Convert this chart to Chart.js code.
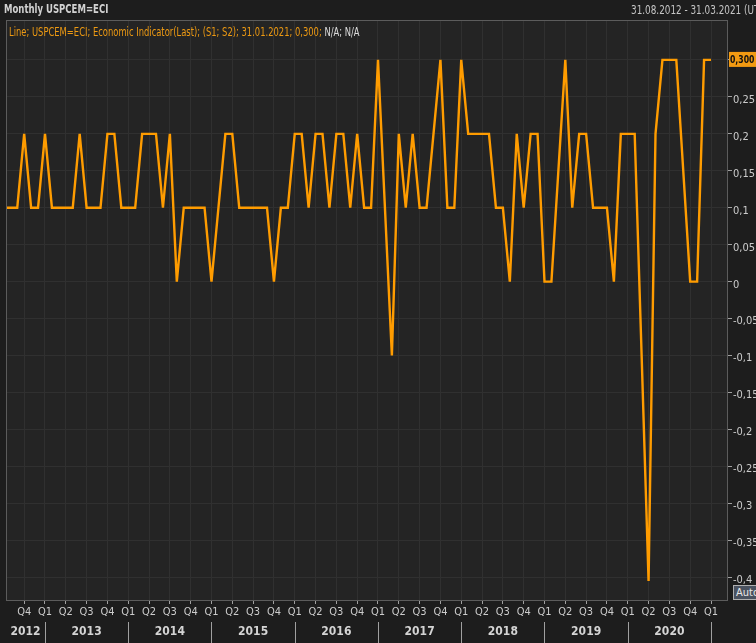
<!DOCTYPE html>
<html>
<head>
<meta charset="utf-8">
<script src="https://cdn.jsdelivr.net/npm/chart.js@4.4.1/dist/chart.umd.min.js"></script>
<style>
html,body{margin:0;padding:0;background:#1d1d1d;overflow:hidden}
#wrap{position:relative;width:756px;height:643px;overflow:hidden}
canvas{position:absolute;left:0;top:0}
.t{position:absolute;font-family:"DejaVu Sans Condensed","Liberation Sans Narrow",sans-serif;white-space:nowrap;line-height:1;transform-origin:left top}
#title{left:4px;top:3px;font-size:12px;font-weight:bold;color:#d2d2d2;transform:scaleX(0.79)}
#range{left:631px;top:4px;font-size:12px;color:#c4c4c4;transform:scaleX(0.82)}
#legend{left:9px;top:27px;font-size:11.5px;color:#ee9a12;transform:scaleX(0.81)}
#legend span{color:#dcdcdc}
#auto{left:733px;top:585px;width:26px;height:13px;font-size:11px;color:#e8e8e8;background:#4a5260;border:1px solid #b0b0b0;padding-left:2px;line-height:13px}
</style>
</head>
<body>
<div id="wrap">
<canvas id="c" width="756" height="643"></canvas>
<div class="t" id="title">Monthly USPCEM=ECI</div>
<div class="t" id="range">31.08.2012 - 31.03.2021 (UTC)</div>
<div class="t" id="legend">Line; USPCEM=ECI; Economic Indicator(Last); (S1; S2); 31.01.2021; 0,300; <span>N/A; N/A</span></div>
<div class="t" id="auto">Auto</div>
</div>
<script>
// monthly values, Jul 2012 .. Jan 2021
var v2012 = [0.1, 0.1, 0.1, 0.2, 0.1, 0.1];            // Jul-Dec
var v2013 = [0.2, 0.1, 0.1, 0.1, 0.1, 0.2, 0.1, 0.1, 0.1, 0.2, 0.2, 0.1];
var v2014 = [0.1, 0.1, 0.2, 0.2, 0.2, 0.1, 0.2, 0.0, 0.1, 0.1, 0.1, 0.1];
var v2015 = [0.0, 0.1, 0.2, 0.2, 0.1, 0.1, 0.1, 0.1, 0.1, 0.0, 0.1, 0.1];
var v2016 = [0.2, 0.2, 0.1, 0.2, 0.2, 0.1, 0.2, 0.2, 0.1, 0.2, 0.1, 0.1];
var v2017 = [0.3, 0.1, -0.1, 0.2, 0.1, 0.2, 0.1, 0.1, 0.2, 0.3, 0.1, 0.1];
var v2018 = [0.3, 0.2, 0.2, 0.2, 0.2, 0.1, 0.1, 0.0, 0.2, 0.1, 0.2, 0.2];
var v2019 = [0.0, 0.0, 0.15, 0.3, 0.1, 0.2, 0.2, 0.1, 0.1, 0.1, 0.0, 0.2];
var v2020 = [0.2, 0.2, -0.1, -0.405, 0.2, 0.3, 0.3, 0.3, 0.15, 0.0, 0.0, 0.3];
var v2021 = [0.3];                                      // Jan

var years = ['2012','2013','2014','2015','2016','2017','2018','2019','2020'];
var quarterNames = ['Q1','Q2','Q3','Q4'];
var yTicks = [0.3, 0.25, 0.2, 0.15, 0.1, 0.05, 0, -0.05, -0.1, -0.15, -0.2, -0.25, -0.3, -0.35, -0.4];
var lastValue = 0.3, lastLabel = '0,300';

// x = months since Jan 2012
var xMin = 6.38, xMax = 110.45;
var pts = [];
[[2012, 6, v2012], [2013, 0, v2013], [2014, 0, v2014], [2015, 0, v2015], [2016, 0, v2016],
 [2017, 0, v2017], [2018, 0, v2018], [2019, 0, v2019], [2020, 0, v2020], [2021, 0, v2021]].forEach(function(r){
	r[2].forEach(function(v, i){ pts.push({x: (r[0]-2012)*12 + r[1] + i, y: v}); });
});
var qTicks = [];
for (var q = 9; q <= 108; q += 3) qTicks.push(q);

var font = '"DejaVu Sans Condensed",sans-serif';

var frame = {
	id: 'frame',
	beforeDraw: function(ch){
		var a = ch.chartArea, c = ch.ctx;
		c.save();
		c.fillStyle = '#242424';
		c.fillRect(a.left, a.top, a.right-a.left, a.bottom-a.top);
		c.restore();
	},
	afterDraw: function(ch){
		var a = ch.chartArea, c = ch.ctx, xs = ch.scales.x, ys = ch.scales.y;
		c.save();
		c.strokeStyle = '#5c5c5c'; c.lineWidth = 1;
		c.strokeRect(a.left+0.5, a.top+0.5, a.right-a.left-1, a.bottom-a.top);
		// year row
		c.strokeStyle = '#a0a0a0';
		c.fillStyle = '#d4d4d4';
		c.font = 'bold 12px ' + font;
		c.textAlign = 'center'; c.textBaseline = 'middle';
		years.forEach(function(y, i){
			var s = Math.max(xMin, i*12), e = Math.min(xMax, (i+1)*12);
			var ps = xs.getPixelForValue(s), pe = xs.getPixelForValue(e);
			c.fillText(y, (ps+pe)/2, 632);
			if ((i+1)*12 < xMax) {
				c.beginPath(); c.moveTo(Math.round(pe)+0.5, 622); c.lineTo(Math.round(pe)+0.5, 643); c.stroke();
			}
		});
		// last value box
		var py = ys.getPixelForValue(lastValue);
		c.fillStyle = '#f29a12';
		c.fillRect(a.right+1, py-8, 756-a.right, 15);
		c.fillStyle = '#111';
		c.font = 'bold 11px ' + font;
		c.textAlign = 'left';
		c.translate(a.right+2, py);
		c.scale(0.78, 1);
		c.fillText(lastLabel, 0, 0);
		c.restore();
	}
};

new Chart(document.getElementById('c'), {
	type: 'line',
	data: {datasets: [{data: pts, borderColor: '#ff9c00', borderWidth: 2.4, pointRadius: 0, tension: 0, fill: false}]},
	options: {
		responsive: false, animation: false,
		layout: {padding: {left: 6, top: 20, right: 0, bottom: 0}},
		plugins: {legend: {display: false}, tooltip: {enabled: false}},
		scales: {
			x: {
				type: 'linear', min: xMin, max: xMax,
				afterBuildTicks: function(s){ s.ticks = qTicks.map(function(v){ return {value: v}; }); },
				afterFit: function(s){ s.height = 43; },
				grid: {color: '#303030', tickColor: '#a0a0a0', tickLength: 4},
				border: {display: false},
				ticks: {autoSkip: false, maxRotation: 0, minRotation: 0, padding: 2, color: '#cccccc',
					font: {family: font, size: 11},
					callback: function(v){ return quarterNames[(v % 12) / 3]; }}
			},
			y: {
				position: 'right', min: -0.4307, max: 0.354,
				afterBuildTicks: function(s){ s.ticks = yTicks.map(function(v){ return {value: v}; }); },
				afterFit: function(s){ s.width = 28; },
				grid: {color: '#303030', tickColor: '#a0a0a0', tickLength: 4},
				border: {display: false},
				ticks: {padding: 1, color: '#cccccc', labelOffset: 3, font: {family: font, size: 11},
					callback: function(v){ return v === lastValue ? '' : String(+v.toFixed(2)).replace('.', ','); }}
			}
		}
	},
	plugins: [frame]
});
</script>
</body>
</html>
